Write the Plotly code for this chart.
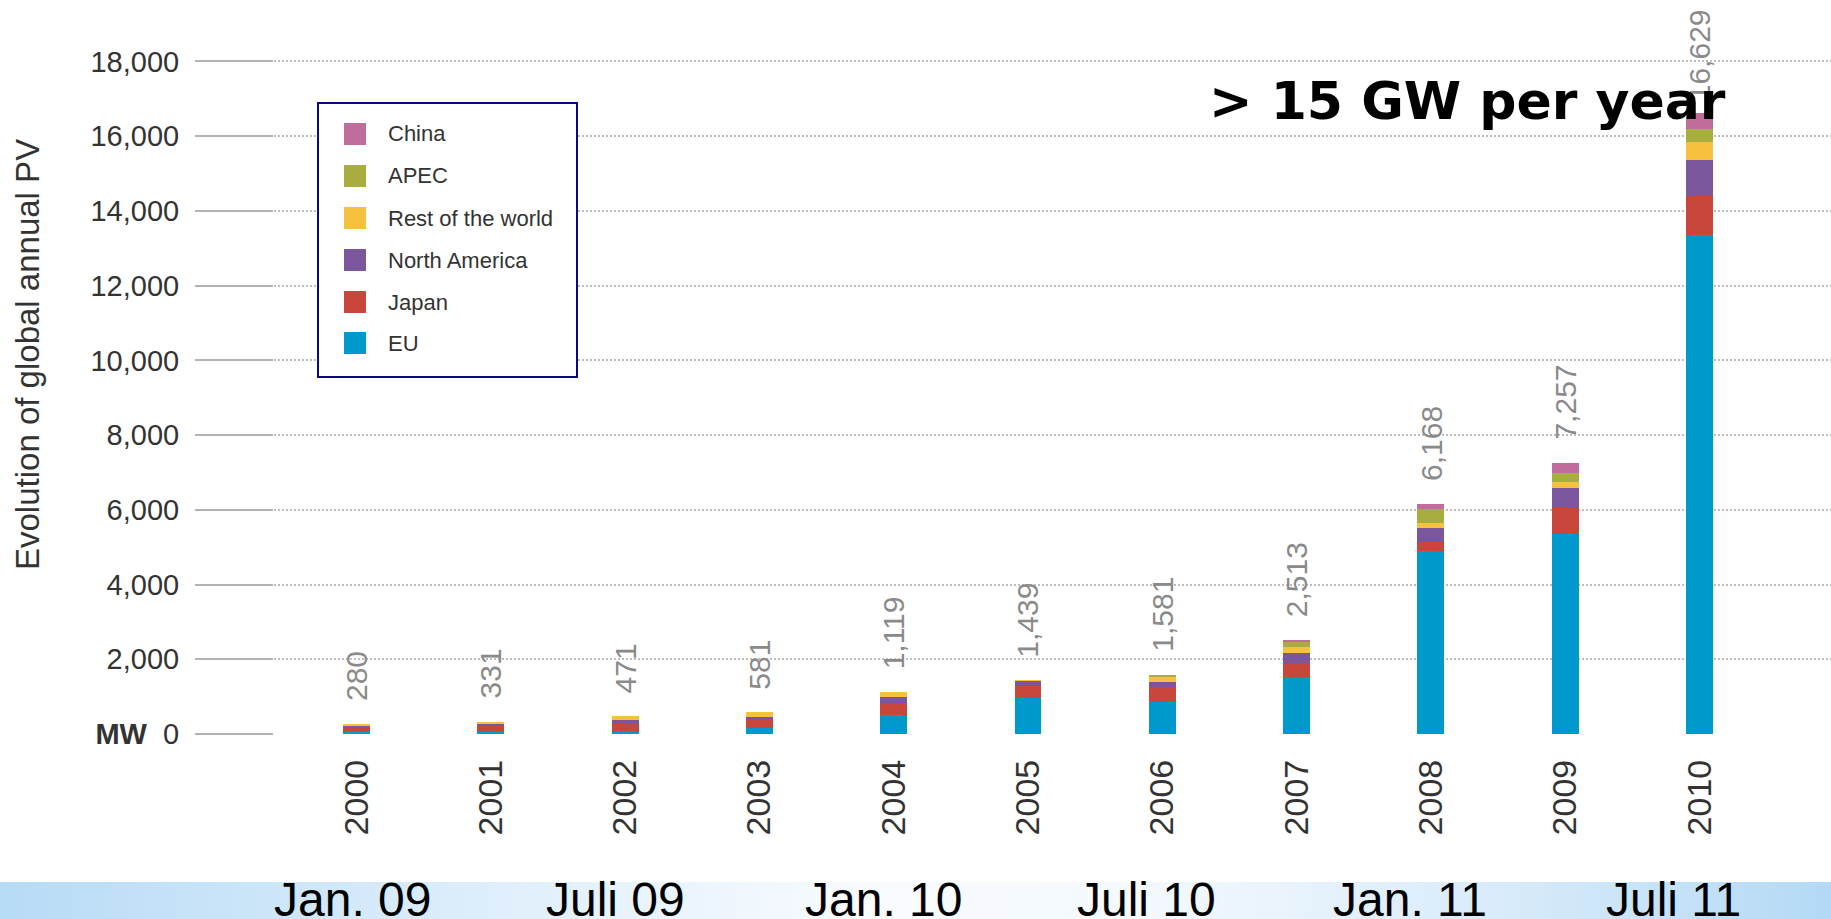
import base64
import plotly.graph_objects as go

# ---- data (MW installed per year) ----
years = ["2000", "2001", "2002", "2003", "2004", "2005",
         "2006", "2007", "2008", "2009", "2010"]

eu            = [70, 81, 71, 156, 500, 968, 866, 1533, 4885, 5357, 13359]
japan         = [122, 156, 214, 241, 341, 305, 393, 360, 260, 680, 1027]
north_america = [35, 44, 79, 71, 159, 148, 134, 285, 364, 549, 973]
rest_of_world = [53, 50, 107, 113, 119, 18, 125, 151, 130, 166, 477]
apec          = [0, 0, 0, 0, 0, 0, 63, 126, 373, 226, 361]
china         = [0, 0, 0, 0, 0, 0, 0, 58, 156, 279, 432]

series_names  = ["EU", "Japan", "North America", "Rest of the world", "APEC", "China"]
series_values = [eu, japan, north_america, rest_of_world, apec, china]
series_colors = ["#0099cc", "#c9463a", "#7b569d", "#f5c13f", "#a8ad3f", "#c06d9c"]

y_ticks = [0, 2000, 4000, 6000, 8000, 10000, 12000, 14000, 16000, 18000]
timeline_labels = ["Jan. 09", "Juli 09", "Jan. 10", "Juli 10", "Jan. 11", "Juli 11"]
timeline_px = [352, 615, 883, 1146, 1410, 1673]

totals = [sum(col) for col in zip(*series_values)]

# ---- page geometry ----
W, H = 1831, 919
L, R, T, B = 274, 0, 14, 185
PLOT_W = W - L - R
PLOT_H = H - T - B
Y_MAX = 19270
X_RANGE = [-0.614, 10.979]
FONT = "Liberation Sans, Arial, Helvetica, sans-serif"


def px_x(px):
    return (px - L) / PLOT_W


def px_y(py):
    return (H - B - py) / PLOT_H


fig = go.Figure()
for name, vals, col in zip(series_names, series_values, series_colors):
    fig.add_trace(go.Bar(
        x=years, y=vals, name=name,
        marker=dict(color=col, line=dict(width=0)),
        showlegend=False,
    ))

# ---- value labels above each stack (x given as category index) ----
LABEL_SIZE = 30
for i, tot in enumerate(totals):
    text = f"{tot:,}"
    est_len = sum(0.278 if ch == "," else 0.556 for ch in text) * LABEL_SIZE
    top_px = T + PLOT_H * (1 - tot / Y_MAX)
    shift = min(21, top_px - 12 - est_len)
    fig.add_annotation(
        x=i, y=tot, xref="x", yref="y", text=text, showarrow=False,
        textangle=-90, yanchor="bottom", xanchor="center", yshift=shift,
        font=dict(family=FONT, size=LABEL_SIZE, color="#8a8a8a"),
    )

# ---- legend box drawn by hand ----
fig.add_shape(type="rect", xref="paper", yref="paper",
              x0=px_x(318), x1=px_x(577), y0=px_y(377), y1=px_y(103),
              line=dict(color="#0a0a80", width=2), fillcolor="white", layer="above")
row_px = [134, 176, 218, 260, 302, 343]
for i, idx in enumerate(reversed(range(len(series_names)))):
    cy = row_px[i]
    fig.add_shape(type="rect", xref="paper", yref="paper",
                  x0=px_x(344), x1=px_x(366), y0=px_y(cy + 11), y1=px_y(cy - 11),
                  line=dict(width=0), fillcolor=series_colors[idx], layer="above")
    fig.add_annotation(x=px_x(386), y=px_y(cy), xref="paper", yref="paper",
                       text=series_names[idx], showarrow=False,
                       xanchor="left", yanchor="middle",
                       font=dict(family=FONT, size=22, color="#333333"))

# ---- axis title ----
fig.add_annotation(x=px_x(27), y=px_y(355), xref="paper", yref="paper",
                   text="Evolution of global annual PV", showarrow=False,
                   textangle=-90, xanchor="center", yanchor="middle",
                   font=dict(family=FONT, size=33, color="#333333"))

# ---- headline ----
fig.add_annotation(x=px_x(1467), y=px_y(101), xref="paper", yref="paper",
                   text="> 15 GW per year", showarrow=False,
                   xanchor="center", yanchor="middle",
                   font=dict(family="DejaVu Sans, Verdana, sans-serif", size=52,
                             color="black", weight="bold"))

# ---- timeline strip along the bottom ----
svg = (
    '<svg xmlns="http://www.w3.org/2000/svg" width="1831" height="37" '
    'preserveAspectRatio="none"><defs><linearGradient id="g" x1="0" x2="1" y1="0" y2="0">'
    '<stop offset="0" stop-color="#b7dbf6"/>'
    '<stop offset="0.28" stop-color="#e0effb"/>'
    '<stop offset="0.48" stop-color="#f8fbfe"/>'
    '<stop offset="0.62" stop-color="#f4f9fd"/>'
    '<stop offset="0.82" stop-color="#d8ebfa"/>'
    '<stop offset="1" stop-color="#b4d9f5"/>'
    '</linearGradient></defs><rect width="1831" height="37" fill="url(#g)"/></svg>'
)
fig.add_layout_image(
    source="data:image/svg+xml;base64," + base64.b64encode(svg.encode()).decode(),
    xref="paper", yref="paper", x=px_x(0), y=px_y(882),
    sizex=W / PLOT_W, sizey=(H - 882) / PLOT_H,
    xanchor="left", yanchor="top", sizing="stretch", layer="below",
)
for lab, cx in zip(timeline_labels, timeline_px):
    fig.add_annotation(x=px_x(cx), y=px_y(871), xref="paper", yref="paper",
                       text=lab, showarrow=False, xanchor="center", yanchor="top",
                       font=dict(family=FONT, size=48, color="black"))

tick_text = [f"{v:,}" for v in y_ticks]
tick_text[0] = "<b>MW</b>\u00a0\u00a00"

fig.update_layout(
    width=W, height=H,
    margin=dict(l=L, r=R, t=T, b=B, pad=0),
    paper_bgcolor="white", plot_bgcolor="white",
    barmode="stack", bargap=0.8,
    font=dict(family=FONT, color="#333333"),
    xaxis=dict(
        type="category", range=X_RANGE, showgrid=False, zeroline=False,
        showline=False, ticks="", tickangle=-90, ticklabelstandoff=18,
        tickfont=dict(family=FONT, size=34, color="#333333"),
    ),
    yaxis=dict(
        range=[0, Y_MAX], tickvals=y_ticks, ticktext=tick_text,
        showgrid=True, gridcolor="#bdbdbd", gridwidth=1.5, griddash="2px,2px",
        zeroline=False, showline=False,
        ticks="outside", ticklen=78, tickwidth=2, tickcolor="#b3b3b3",
        ticklabelstandoff=10,
        tickfont=dict(family=FONT, size=29, color="#333333"),
    ),
)

fig.write_html("out.html", config={"displayModeBar": False})
